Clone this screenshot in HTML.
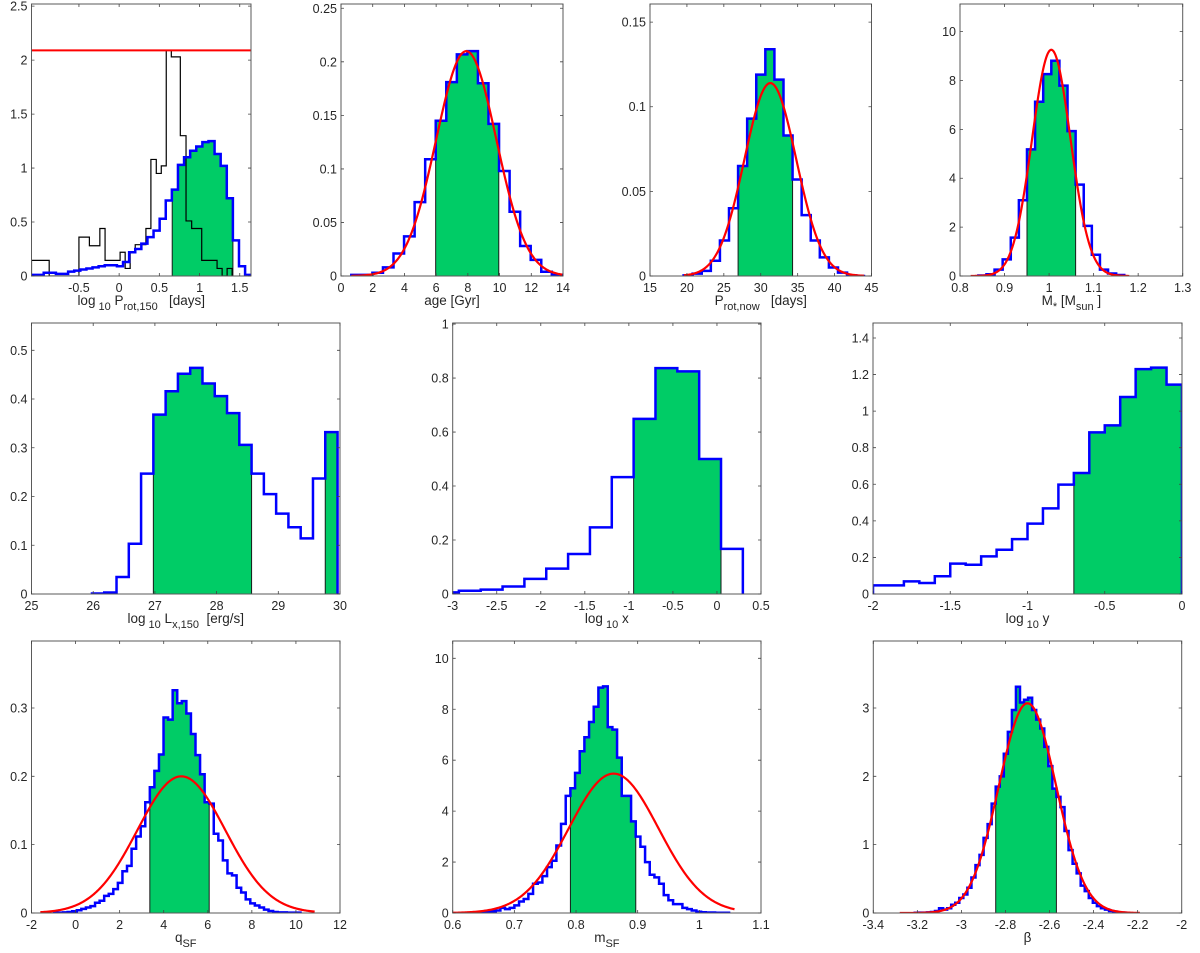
<!DOCTYPE html>
<html><head><meta charset="utf-8"><title>Posterior histograms</title>
<style>
html,body{margin:0;padding:0;background:#fff;}
svg{display:block;font-family:"Liberation Sans",Arial,sans-serif;}
</style></head>
<body>
<svg id="fig" xmlns="http://www.w3.org/2000/svg" width="1200" height="953" viewBox="0 0 1200 953"></svg>
<script>
// ---------- data ----------
const p1BlueBins = [-1.09, 0.0759];
const p1BlueVals = [0.01,0.01,0.03,0.03,0.02,0.02,0.04,0.05,0.06,0.07,0.08,0.09,0.1,0.1,0.09,0.13,0.22,0.25,0.3,0.36,0.42,0.53,0.7,0.8,1.03,1.1,1.16,1.2,1.24,1.25,1.13,1.02,0.72,0.33,0.09,0.01];
const p1BlackEdges = [-1.09,-0.87,-0.5,-0.37,-0.24,-0.175,0.012,0.075,0.137,0.2,0.333,0.395,0.462,0.524,0.586,0.649,0.761,0.832,0.902,1.027,1.218,1.281,1.343,1.405];
const p1BlackVals = [0.145,0,0.36,0.28,0.44,0.145,0.22,0.07,0.22,0.29,0.44,1.08,0.95,1.02,2.09,2.03,1.3,0.51,0.44,0.145,0.07,0,0.07];
const p1Green = [[0.66,1.415]];
const p1HLine = [2.09];

const p2Bins = [0.65, 0.6655];
const p2Vals = [0.001,0.001,0.003,0.008,0.021,0.037,0.069,0.109,0.145,0.181,0.207,0.21,0.18,0.142,0.098,0.06,0.028,0.015,0.004,0.001];
const p2Green = [[5.97,9.95]];
const p2Fit = [7.9, 1.9, 0.65, 13.95];

const p3Bins = [19.55, 1.23];
const p3Vals = [0.0004,0.0014,0.003,0.009,0.021,0.04,0.065,0.093,0.119,0.134,0.116,0.083,0.057,0.036,0.021,0.011,0.005,0.002,0.0004,0];
const p3Green = [[26.93,34.31]];
const p3Fit = [31.3, 3.5, 19.6, 44];

const p4Bins = [0.8412, 0.0182];
const p4Vals = [0.02,0.07,0.26,0.68,1.57,3.1,5.18,7.13,8.26,8.81,7.79,5.93,3.74,2.05,0.87,0.26,0.1,0.04];
const p4Green = [[0.9504,1.0596]];
const p4Fit = [1.005, 0.0431, 0.824, 1.18];

const p5Bins = [25.98, 0.199];
const p5Vals = [0.001,0.003,0.035,0.103,0.247,0.368,0.416,0.452,0.464,0.432,0.406,0.371,0.306,0.247,0.205,0.165,0.137,0.114,0.237,0.332];
const p5Green = [[26.975,28.567],[29.761,29.96]];

const p6Bins = [-3.178, 0.248];
const p6Vals = [0.006,0.012,0.016,0.028,0.056,0.094,0.148,0.247,0.433,0.649,0.837,0.825,0.5,0.167];
const p6Green = [[-0.946,0.046]];

const p7Bins = [-2, 0.1];
const p7Vals = [0.047,0.047,0.069,0.06,0.097,0.166,0.16,0.206,0.242,0.3,0.385,0.468,0.598,0.662,0.884,0.922,1.077,1.23,1.238,1.145];
const p7Green = [[-0.7,0]];

const p8Bins = [-0.981, 0.2072];
const p8Vals = [0.0005,0.0005,0.001,0.0015,0.0025,0.004,0.006,0.008,0.01,0.015,0.018,0.025,0.028,0.035,0.044,0.061,0.069,0.094,0.112,0.127,0.162,0.184,0.208,0.232,0.286,0.283,0.326,0.307,0.31,0.292,0.262,0.231,0.203,0.162,0.16,0.116,0.106,0.077,0.058,0.055,0.037,0.03,0.02,0.014,0.011,0.008,0.005,0.003,0.0015,0.001,0.001,0.0005,0.0005,0.0005];
const p8Green = [[3.37,6.064]];
const p8Fit = [4.8, 1.995, -1.6, 10.85];

const p9Bins = [0.6319, 0.00757];
const p9Vals = [0.01,0.02,0.03,0.05,0.07,0.1,0.2,0.15,0.2,0.3,0.45,0.55,0.75,1.15,1.2,1.45,1.8,2.05,2.65,3.5,4.6,
  4.9,5.5,6.35,6.9,7.5,8.1,8.85,8.9,7.3,7.2,6.1,4.6,4.6,3.6,
  3.0,2.6,2.0,1.5,1.4,1.15,0.7,0.5,0.35,0.35,0.2,0.15,0.1,0.05,0.03,0.02,0.02,0.01,0.01,0.01];
const p9Green = [[0.7909,0.8969]];
const p9Fit = [0.861, 0.0729, 0.6, 1.057];

const p10Bins = [-3.2117, 0.01837];
const p10Vals = [0.003,0.005,0.005,0.01,0.015,0.03,0.07,0.05,0.07,0.12,0.15,0.22,0.27,0.37,0.52,0.7,0.85,1.1,1.3,1.6,
  1.85,2.0,2.33,2.65,2.97,3.31,3.08,3.12,3.15,2.97,2.83,2.7,2.43,2.15,1.82,
  1.7,1.55,1.2,0.92,0.72,0.58,0.4,0.32,0.22,0.15,0.1,0.07,0.05,0.03,0.02,0.01,0.005];
const p10Green = [[-2.8443,-2.5688]];
const p10Fit = [-2.70, 0.13, -3.28, -2.19];

// tick values / labels
const p1XT = [-0.5,0,0.5,1,1.5], p1XL = ["-0.5","0","0.5","1","1.5"];
const p1YT = [0,0.5,1,1.5,2,2.5], p1YL = ["0","0.5","1","1.5","2","2.5"];
const p2XT = [0,2,4,6,8,10,12,14], p2XL = ["0","2","4","6","8","10","12","14"];
const p2YT = [0,0.05,0.1,0.15,0.2,0.25], p2YL = ["0","0.05","0.1","0.15","0.2","0.25"];
const p3XT = [15,20,25,30,35,40,45], p3XL = ["15","20","25","30","35","40","45"];
const p3YT = [0,0.05,0.1,0.15], p3YL = ["0","0.05","0.1","0.15"];
const p4XT = [0.8,0.9,1,1.1,1.2,1.3], p4XL = ["0.8","0.9","1","1.1","1.2","1.3"];
const p4YT = [0,2,4,6,8,10], p4YL = ["0","2","4","6","8","10"];
const p5XT = [25,26,27,28,29,30], p5XL = ["25","26","27","28","29","30"];
const p5YT = [0,0.1,0.2,0.3,0.4,0.5], p5YL = ["0","0.1","0.2","0.3","0.4","0.5"];
const p6XT = [-3,-2.5,-2,-1.5,-1,-0.5,0,0.5], p6XL = ["-3","-2.5","-2","-1.5","-1","-0.5","0","0.5"];
const p6YT = [0,0.2,0.4,0.6,0.8,1], p6YL = ["0","0.2","0.4","0.6","0.8","1"];
const p7XT = [-2,-1.5,-1,-0.5,0], p7XL = ["-2","-1.5","-1","-0.5","0"];
const p7YT = [0,0.2,0.4,0.6,0.8,1,1.2,1.4], p7YL = ["0","0.2","0.4","0.6","0.8","1","1.2","1.4"];
const p8XT = [-2,0,2,4,6,8,10,12], p8XL = ["-2","0","2","4","6","8","10","12"];
const p8YT = [0,0.1,0.2,0.3], p8YL = ["0","0.1","0.2","0.3"];
const p9XT = [0.6,0.7,0.8,0.9,1,1.1], p9XL = ["0.6","0.7","0.8","0.9","1","1.1"];
const p9YT = [0,2,4,6,8,10], p9YL = ["0","2","4","6","8","10"];
const p10XT = [-3.4,-3.2,-3,-2.8,-2.6,-2.4,-2.2,-2], p10XL = ["-3.4","-3.2","-3","-2.8","-2.6","-2.4","-2.2","-2"];
const p10YT = [0,1,2,3], p10YL = ["0","1","2","3"];

// ---------- layout ----------
const R1=[4,276], R2=[323,594], R3=[641,913];
const panels = [
 {id:'prot150', x0:31.5,x1:251,y:R1, xlim:[-1.09,1.64], ylim:[0,2.52], bins:p1BlueBins, vals:p1BlueVals, green:p1Green, black:[p1BlackEdges,p1BlackVals], hline:p1HLine, xt:p1XT,xl:p1XL,yt:p1YT,yl:p1YL,
  label:[["log",0],[" 10",1],[" P",0],["rot,150",1],["   [days]",0]]},
 {id:'age', x0:341,x1:563,y:R1, xlim:[0,14], ylim:[0,0.254], bins:p2Bins, vals:p2Vals, green:p2Green, fit:p2Fit, xt:p2XT,xl:p2XL,yt:p2YT,yl:p2YL, label:[["age [Gyr]",0]]},
 {id:'protnow', x0:650,x1:871.5,y:R1, xlim:[15,45], ylim:[0,0.1607], bins:p3Bins, vals:p3Vals, green:p3Green, fit:p3Fit, xt:p3XT,xl:p3XL,yt:p3YT,yl:p3YL, label:[["P",0],["rot,now",1],["   [days]",0]]},
 {id:'mass', x0:960,x1:1182.7,y:R1, xlim:[0.8,1.3], ylim:[0,11.13], bins:p4Bins, vals:p4Vals, green:p4Green, fit:p4Fit, xt:p4XT,xl:p4XL,yt:p4YT,yl:p4YL, label:[["M",0],["*",1],[" [M",0],["sun",1],[" ]",0]]},
 {id:'lx150', x0:31.5,x1:340,y:R2, xlim:[25,30], ylim:[0,0.556], bins:p5Bins, vals:p5Vals, green:p5Green, xt:p5XT,xl:p5XL,yt:p5YT,yl:p5YL, label:[["log",0],[" 10",1],[" L",0],["x,150",1],["  [erg/s]",0]]},
 {id:'logx', x0:452.7,x1:761,y:R2, xlim:[-3,0.5], ylim:[0,1.004], bins:p6Bins, vals:p6Vals, green:p6Green, xt:p6XT,xl:p6XL,yt:p6YT,yl:p6YL, label:[["log",0],[" 10",1],[" x",0]]},
 {id:'logy', x0:873,x1:1182,y:R2, xlim:[-2,0], ylim:[0,1.482], bins:p7Bins, vals:p7Vals, green:p7Green, xt:p7XT,xl:p7XL,yt:p7YT,yl:p7YL, label:[["log",0],[" 10",1],[" y",0]]},
 {id:'qsf', x0:31.5,x1:340,y:R3, xlim:[-2,12], ylim:[0,0.398], bins:p8Bins, vals:p8Vals, green:p8Green, fit:p8Fit, xt:p8XT,xl:p8XL,yt:p8YT,yl:p8YL, label:[["q",0],["SF",1]]},
 {id:'msf', x0:452.7,x1:761,y:R3, xlim:[0.6,1.1], ylim:[0,10.68], bins:p9Bins, vals:p9Vals, green:p9Green, fit:p9Fit, xt:p9XT,xl:p9XL,yt:p9YT,yl:p9YL, label:[["m",0],["SF",1]]},
 {id:'beta', x0:873.3,x1:1181.7,y:R3, xlim:[-3.4,-2], ylim:[0,3.98], bins:p10Bins, vals:p10Vals, green:p10Green, fit:p10Fit, xt:p10XT,xl:p10XL,yt:p10YT,yl:p10YL, label:[["β",0]]}
];

const NS='http://www.w3.org/2000/svg';
const svg=document.getElementById('fig');
function mk(tag,parent){const e=document.createElementNS(NS,tag);parent.appendChild(e);return e;}
function at(e,o){for(const k in o)e.setAttribute(k,o[k]);}
const defs=mk('defs',svg);

panels.forEach(function(P){
  const y0=P.y[0], y1=P.y[1];
  const sx=v=>P.x0+(v-P.xlim[0])/(P.xlim[1]-P.xlim[0])*(P.x1-P.x0);
  const sy=v=>y1-(v-P.ylim[0])/(P.ylim[1]-P.ylim[0])*(y1-y0);
  const g=mk('g',svg);
  
  
  const cp=mk('clipPath',defs); cp.setAttribute('id','clip-'+P.id);
  const cr=mk('rect',cp); at(cr,{x:P.x0,y:y0,width:P.x1-P.x0,height:y1-y0});
  const plot=mk('g',g); plot.setAttribute('clip-path','url(#clip-'+P.id+')');
  
  
  const s=P.bins[0], w=P.bins[1], V=P.vals;
  const valAt=function(x){const i=Math.floor((x-s)/w+1e-6);return (i>=0&&i<V.length)?V[i]:0;};
  // green credible region(s)
  P.green.forEach(function(iv){
    const lo=iv[0], hi=iv[1];
    let d='M'+sx(lo)+','+sy(0);
    for(let i=0;i<V.length;i++){
      const a=Math.max(s+i*w,lo), b=Math.min(s+(i+1)*w,hi);
      if(b<=a) continue;
      d+=' L'+sx(a)+','+sy(V[i])+' L'+sx(b)+','+sy(V[i]);
    }
    d+=' L'+sx(hi)+','+sy(0)+' Z';
    const gp=mk('path',plot); at(gp,{d:d,fill:'#00cc66',stroke:'none'});
    
    
    [lo,hi].forEach(function(xx,k){
      const hv=valAt(k===0?xx+w*0.01:xx-w*0.01);
      const ln=mk('line',plot); at(ln,{x1:sx(xx),x2:sx(xx),y1:sy(0),y2:sy(hv),stroke:'#1a1a1a','stroke-width':1});
      
      
    });
  });
  // black prior histogram
  if(P.black){
    const E=P.black[0], BV=P.black[1];
    let d='M'+sx(E[0])+','+sy(0);
    for(let i=0;i<BV.length;i++){d+=' L'+sx(E[i])+','+sy(BV[i])+' L'+sx(E[i+1])+','+sy(BV[i]);}
    d+=' L'+sx(E[E.length-1])+','+sy(0);
    const bp=mk('path',plot); at(bp,{d:d,fill:'none',stroke:'#000','stroke-width':1.2});
    
    
  }
  // blue posterior histogram
  let d='M'+sx(s)+','+sy(0);
  for(let i=0;i<V.length;i++){d+=' L'+sx(s+i*w)+','+sy(V[i])+' L'+sx(s+(i+1)*w)+','+sy(V[i]);}
  d+=' L'+sx(s+V.length*w)+','+sy(0);
  const hp=mk('path',plot); at(hp,{d:d,fill:'none',stroke:'#0000ff','stroke-width':2.5,'stroke-linejoin':'miter'});
  
  
  // red fit
  if(P.fit){
    const mu=P.fit[0], sg=P.fit[1], a=P.fit[2], b=P.fit[3];
    const amp=1/(sg*Math.sqrt(2*Math.PI));
    let fd='';
    for(let k=0;k<=240;k++){const x=a+(b-a)*k/240;const y=amp*Math.exp(-0.5*((x-mu)/sg)**2);fd+=(k?' L':'M')+sx(x).toFixed(2)+','+sy(y).toFixed(2);}
    const fp=mk('path',plot); at(fp,{d:fd,fill:'none',stroke:'#ff0000','stroke-width':2.2});
    
    
  }
  if(P.hline){
    const hl=mk('line',plot); at(hl,{x1:P.x0,x2:P.x1,y1:sy(P.hline[0]),y2:sy(P.hline[0]),stroke:'#ff0000','stroke-width':2});
    
    
  }
  // box
  const bx=mk('rect',g); at(bx,{x:P.x0,y:y0,width:P.x1-P.x0,height:y1-y0,fill:'none',stroke:'#5a5a5a','stroke-width':1});
  
  
  const tl=3;
  P.xt.forEach(function(v,i){
    const x=sx(v);
    const t1=mk('path',g); at(t1,{d:'M'+x+','+y1+' v'+(-tl)+' M'+x+','+y0+' v'+tl,stroke:'#444','stroke-width':0.8});
    
    
    const tx=mk('text',g); at(tx,{x:x,y:y1+16,'text-anchor':'middle','font-size':12.5,fill:'#262626'});
    tx.textContent=P.xl[i];
    
    
  });
  P.yt.forEach(function(v,i){
    const y=sy(v);
    const t1=mk('path',g); at(t1,{d:'M'+P.x0+','+y+' h'+tl+' M'+P.x1+','+y+' h'+(-tl),stroke:'#444','stroke-width':0.8});
    
    
    const tx=mk('text',g); at(tx,{x:P.x0-4,y:y+4.5,'text-anchor':'end','font-size':12.5,fill:'#262626'});
    tx.textContent=P.yl[i];
    
    
  });
  // x label
  const lab=mk('text',g); at(lab,{x:(P.x0+P.x1)/2,y:y1+29,'text-anchor':'middle','font-size':13.5,fill:'#262626'});
  
  
  let sub=false;
  P.label.forEach(function(part){
    const ts=mk('tspan',lab);
    if(part[1]&&!sub){at(ts,{dy:5,'font-size':11});sub=true;}
    else if(!part[1]&&sub){at(ts,{dy:-5});sub=false;}
    ts.setAttribute('xml:space','preserve');
    ts.style.whiteSpace='pre';
    ts.textContent=part[0];
  });
});
</script>
</body></html>
